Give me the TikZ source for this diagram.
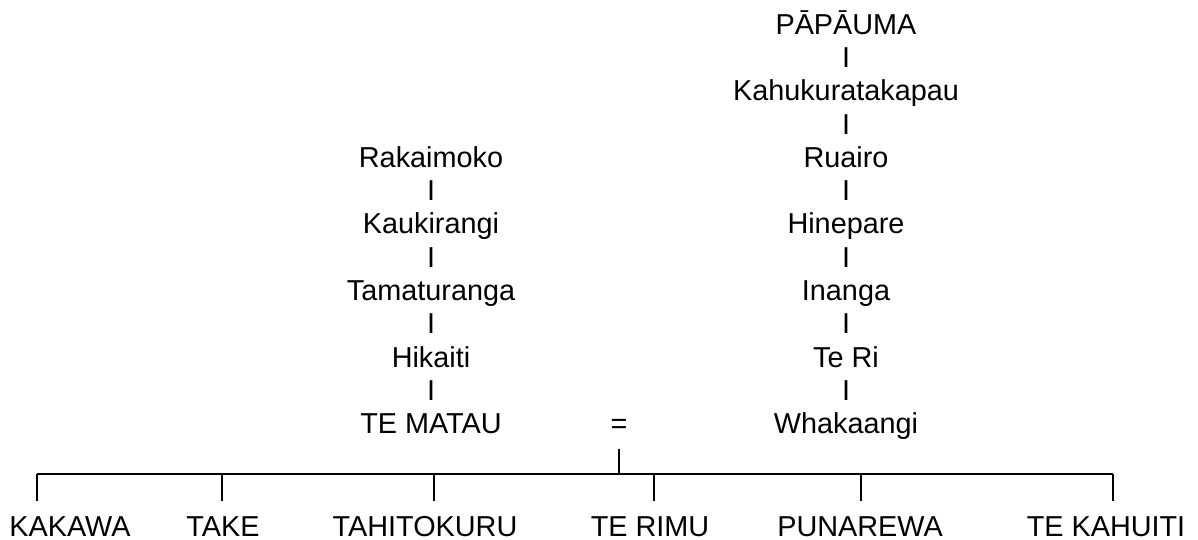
\documentclass[tikz,border=0pt]{standalone}
\usepackage{fontspec}
\setmainfont{Liberation Sans}
\usepackage{tikz}
\tikzstyle{person} = [font=\fontsize{16.4pt}{19pt}\selectfont,
    inner sep=0pt, text height=11.74pt, text depth=0pt]
\tikzstyle{line} = [draw, line width=1.1pt]

\begin{document}
\begin{tikzpicture}[node distance = 0.666cm]
    \useasboundingbox (0,0) rectangle (23.96,-10.8);
    % Te Matau's line
    \node [person] at (8.62,-3.14) (rakaimoko) {Rakaimoko};
    \node [person, below of=rakaimoko] (i1) {I};
    \node [person, below of=i1] (kaukirangi) {Kaukirangi};
    \node [person, below of=kaukirangi] (i2) {I};
    \node [person, below of=i2] (tamaturanga) {Tamaturanga};
    \node [person, below of=tamaturanga] (i3) {I};
    \node [person, below of=i3] (hikaiti) {Hikaiti};
    \node [person, below of=hikaiti] (i4) {I};
    \node [person, below of=i4] (tematau) {TE MATAU};
    \node [person, right of=tematau, node distance=3.76cm] (eq) {=};
    % Whakaangi's line
    \node [person, right of=eq, node distance=4.54cm] (whakaangi) {Whakaangi};
    \node [person, above of=whakaangi] (i5) {I};
    \node [person, above of=i5] (teri) {Te Ri};
    \node [person, above of=teri] (i6) {I};
    \node [person, above of=i6] (inanga) {Inanga};
    \node [person, above of=inanga] (i7) {I};
    \node [person, above of=i7] (hinepare) {Hinepare};
    \node [person, above of=hinepare] (i8) {I};
    \node [person, above of=i8] (ruairo) {Ruairo};
    \node [person, above of=ruairo] (i9) {I};
    \node [person, above of=i9] (kahukura) {Kahukuratakapau};
    \node [person, above of=kahukura] (i10) {I};
    \node [person, above of=i10] (papauma) {PĀPĀUMA};
    % Children
    \coordinate (barleft) at (0.74,-9.48);
    \coordinate (barright) at (22.26,-9.48);
    \coordinate (join) at (eq |- barleft);
    \coordinate (d2) at (4.44,-9.48);
    \coordinate (d3) at (8.68,-9.48);
    \coordinate (d4) at (13.08,-9.48);
    \coordinate (d5) at (17.22,-9.48);
    \node [person] at (1.40,-10.52) (kakawa) {KAKAWA};
    \node [person] at (4.46,-10.52) (take) {TAKE};
    \node [person] at (8.50,-10.52) (tahitokuru) {TAHITOKURU};
    \node [person] at (13.00,-10.52) (terimu) {TE RIMU};
    \node [person] at (17.20,-10.52) (punarewa) {PUNAREWA};
    \node [person] at (22.12,-10.52) (tekahuiti) {TE KAHUITI};
    % Draw edges
    \path [line, shorten <=0.29cm] (eq.south) -- (join);
    \path [line] (barleft) -- (barright);
    \path [line, shorten >=0.29cm] (barleft) -- (barleft |- kakawa.north);
    \path [line, shorten >=0.29cm] (d2) -- (d2 |- take.north);
    \path [line, shorten >=0.29cm] (d3) -- (d3 |- tahitokuru.north);
    \path [line, shorten >=0.29cm] (d4) -- (d4 |- terimu.north);
    \path [line, shorten >=0.29cm] (d5) -- (d5 |- punarewa.north);
    \path [line, shorten >=0.29cm] (barright) -- (barright |- tekahuiti.north);

\end{tikzpicture}
\end{document}
